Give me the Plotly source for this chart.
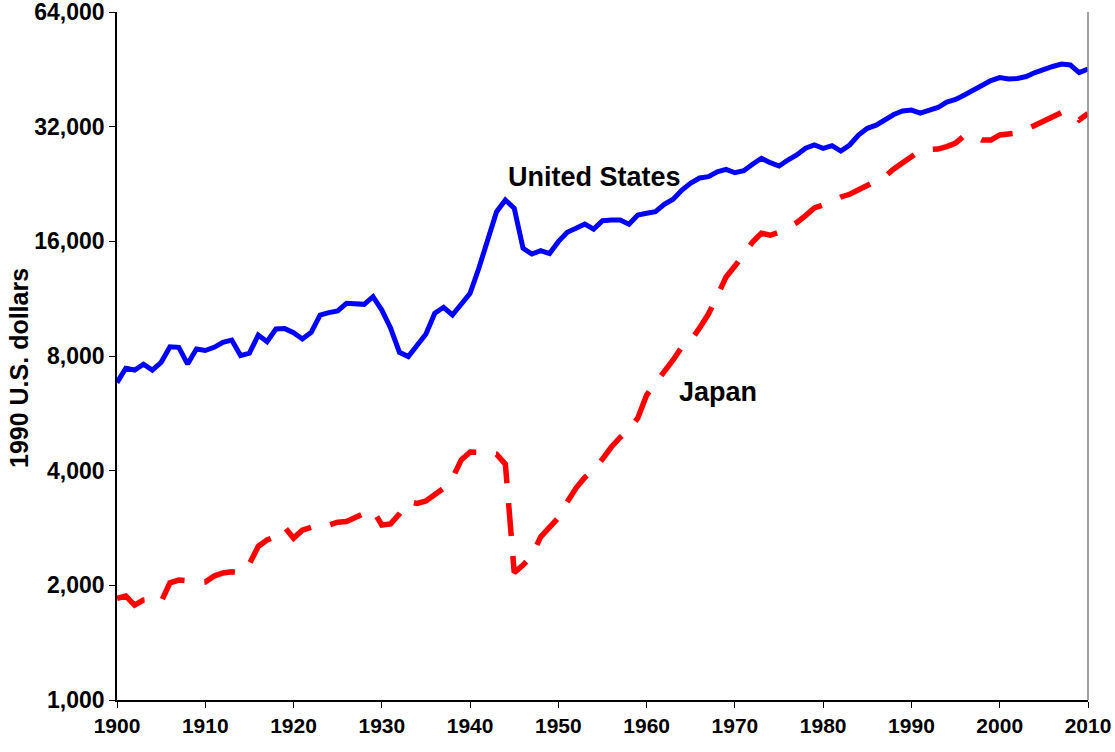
import plotly.graph_objects as go

years = list(range(1900, 2011))

us_gdp = [
    6810, 7430, 7350, 7610, 7350, 7700, 8460, 8430, 7620, 8350,
    8270, 8430, 8690, 8810, 8020, 8140, 9080, 8720, 9420, 9440,
    9210, 8870, 9230, 10250, 10400, 10510, 11000, 10970, 10930, 11450,
    10560, 9460, 8180, 7970, 8550, 9140, 10360, 10740, 10250, 10950,
    11690, 13620, 15970, 19140, 20540, 19540, 15340, 14820, 15130, 14860,
    15970, 16900, 17310, 17770, 17230, 18130, 18200, 18200, 17750, 18760,
    18960, 19140, 20010, 20630, 21820, 22770, 23460, 23650, 24370, 24730,
    24220, 24520, 25490, 26430, 25740, 25220, 26160, 26960, 28080, 28640,
    28080, 28530, 27620, 28640, 30430, 31690, 32300, 33310, 34440, 35180,
    35390, 34750, 35390, 35930, 37140, 37710, 38760, 39810, 41030, 42290,
    43070, 42690, 42810, 43330, 44380, 45340, 46040, 46720, 46450, 44380,
    45340,
]

japan_gdp = [
    1850, 1875, 1775, 1830, 1840, 1810, 2030, 2065, 2055, 2035,
    2040, 2115, 2155, 2170, 2155, 2275, 2530, 2630, 2690, 2840,
    2660, 2790, 2840, 2820, 2880, 2930, 2940, 3020, 3090, 3150,
    2880, 2900, 3080, 3320, 3280, 3330, 3450, 3600, 3820, 4270,
    4480, 4470, 4420, 4420, 4160, 2160, 2260, 2400, 2680, 2850,
    3010, 3310, 3600, 3840, 4030, 4290, 4615, 4890, 5115, 5500,
    6320, 6790, 7260, 7810, 8460, 8780, 9480, 10310, 11500, 12900,
    13780, 14730, 15930, 16800, 16600, 16900, 17450, 17910, 18700, 19570,
    19950, 20480, 20920, 21260, 21820, 22420, 22940, 23680, 24780, 25690,
    26720, 27700, 27870, 27950, 28380, 28980, 30340, 30250, 29510, 29510,
    30430, 30610, 30800, 31450, 32300, 33210, 34130, 34860, 34960, 33310,
    34650,
]

y_tickvals = [1000, 2000, 4000, 8000, 16000, 32000, 64000]
y_ticktext = ["1,000", "2,000", "4,000", "8,000", "16,000", "32,000", "64,000"]
x_tickvals = list(range(1900, 2011, 10))

FONT = "Liberation Sans, Arial, sans-serif"

fig = go.Figure()
fig.add_trace(go.Scatter(
    x=years, y=us_gdp, mode="lines", name="United States",
    line=dict(color="#0000FF", width=5),
))
fig.add_trace(go.Scatter(
    x=years, y=japan_gdp, mode="lines", name="Japan",
    line=dict(color="#FF0000", width=5.5, dash="33px,20px"),
))

fig.update_layout(
    width=1115, height=752,
    margin=dict(l=117, r=27, t=12, b=52),
    paper_bgcolor="white", plot_bgcolor="white",
    showlegend=False,
    font=dict(family=FONT, color="black"),
    xaxis=dict(
        range=[1900, 2010], tickvals=x_tickvals, automargin=False,
        ticklabeloverflow="allow",
        showgrid=False, zeroline=False,
        showline=True, linecolor="black", linewidth=1.5,
        ticks="outside", ticklen=6, tickcolor="black",
        tickfont=dict(family=FONT, size=21, weight="bold", color="black"),
    ),
    yaxis=dict(
        type="log", range=[3, 4.80618], tickvals=y_tickvals, ticktext=y_ticktext,
        automargin=False, ticklabeloverflow="allow",
        showgrid=False, zeroline=False,
        showline=True, linecolor="black", linewidth=1.5,
        ticks="outside", ticklen=6, tickcolor="black",
        tickfont=dict(family=FONT, size=23, weight="bold", color="black"),
    ),
    shapes=[dict(type="line", xref="paper", yref="paper", x0=1, x1=1, y0=0, y1=1,
                 line=dict(color="#808080", width=1.5))],
    annotations=[
        dict(text="United States", x=1944.1, y=4.3725, xref="x", yref="y",
             xanchor="left", yanchor="middle", showarrow=False,
             font=dict(family=FONT, size=27, weight="bold", color="black")),
        dict(text="Japan", x=1963.4, y=3.8086, xref="x", yref="y",
             xanchor="left", yanchor="middle", showarrow=False,
             font=dict(family=FONT, size=27, weight="bold", color="black")),
        dict(text="1990 U.S. dollars", x=(19 - 117) / 971, y=(700 - 368) / 688,
             xref="paper", yref="paper", textangle=-90, showarrow=False,
             xanchor="center", yanchor="middle",
             font=dict(family=FONT, size=25, weight="bold", color="black")),
    ],
)

fig.write_html(
    "out.html",
    config={"displayModeBar": False},
    post_script="document.body.style.margin='0px';document.body.style.overflow='hidden';",
)
